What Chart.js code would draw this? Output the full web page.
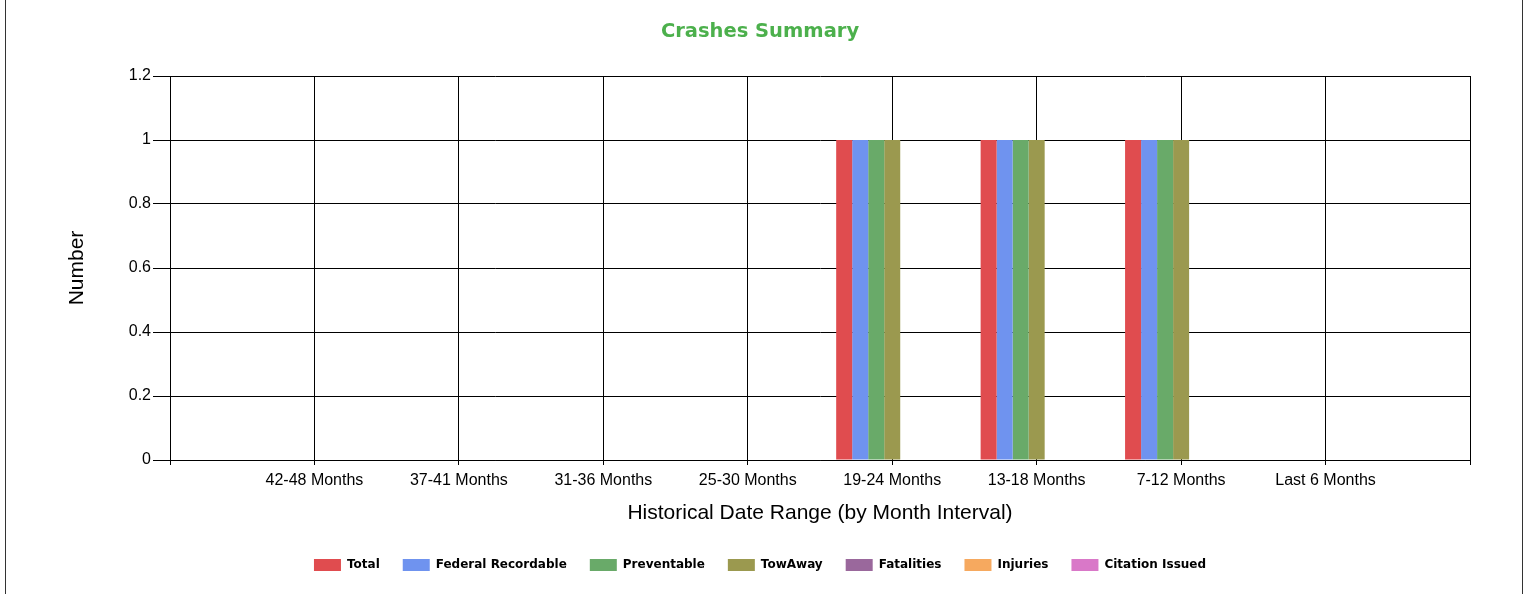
<!DOCTYPE html>
<html>
<head>
<meta charset="utf-8">
<title>Crashes Summary</title>
<script src="https://cdn.jsdelivr.net/npm/chart.js@4"></script>
<style>
  html, body { margin: 0; padding: 0; background: #fff; }
  #wrap { position: relative; width: 1532px; height: 594px; }
  #wrap canvas { position: absolute; left: 0; top: 0; }
  #frame { position: absolute; left: 5px; top: 0; width: 1516px; height: 594px; border-left: 1px solid #333; border-right: 1px solid #333; pointer-events: none; }
</style>
</head>
<body>
<div id="wrap">
  <canvas id="crashChart" width="1532" height="594"></canvas>
  <div id="frame"></div>
</div>
<script>
// month intervals, oldest first
const categories = ['42-48 Months', '37-41 Months', '31-36 Months', '25-30 Months', '19-24 Months', '13-18 Months', '7-12 Months', 'Last 6 Months'];

const total = [0, 0, 0, 0, 1, 1, 1, 0];
const federalRecordable = [0, 0, 0, 0, 1, 1, 1, 0];
const preventable = [0, 0, 0, 0, 1, 1, 1, 0];
const towAway = [0, 0, 0, 0, 1, 1, 1, 0];
const fatalities = [0, 0, 0, 0, 0, 0, 0, 0];
const injuries = [0, 0, 0, 0, 0, 0, 0, 0];
const citationIssued = [0, 0, 0, 0, 0, 0, 0, 0];

const yTicks = [0, 0.2, 0.4, 0.6, 0.8, 1, 1.2];

// the original axis has an empty slot at each end, labels sit on the grid lines
const labels = ['', ...categories, ''];
const pad = (values) => [null, ...values, null];

const series = [
  ['Total', total, '#E04C4F'],
  ['Federal Recordable', federalRecordable, '#6F93EF'],
  ['Preventable', preventable, '#69AA69'],
  ['TowAway', towAway, '#9B994F'],
  ['Fatalities', fatalities, '#9A689C'],
  ['Injuries', injuries, '#F6A95F'],
  ['Citation Issued', citationIssued, '#D978C8'],
];

const axisFont = { family: "'Liberation Sans', Arial, sans-serif", size: 16 };
const axisTitleFont = { family: "'Liberation Sans', Arial, sans-serif", size: 21 };

new Chart(document.getElementById('crashChart'), {
  type: 'bar',
  data: {
    labels,
    datasets: series.map(([label, values, color]) => ({
      label,
      data: pad(values),
      backgroundColor: color,
      borderWidth: 0,
      barPercentage: 1,
      categoryPercentage: 0.776,
    })),
  },
  options: {
    responsive: false,
    animation: false,
    devicePixelRatio: 1,
    layout: { padding: { left: 50, right: 62, top: 0, bottom: 13 } },
    plugins: {
      title: {
        display: true,
        text: 'Crashes Summary',
        color: '#4CB04C',
        font: { family: "'DejaVu Sans', sans-serif", weight: 'bold', size: 19.5 },
        padding: { top: 20.5, bottom: 32.1 },
      },
      legend: {
        position: 'bottom',
        labels: {
          boxWidth: 27,
          boxHeight: 12,
          padding: 23,
          color: '#000',
          font: { family: "'DejaVu Sans', sans-serif", weight: 'bold', size: 12 },
        },
      },
      tooltip: { enabled: false },
    },
    scales: {
      x: {
        offset: false,
        grid: { color: '#000', lineWidth: 1, offset: false, tickLength: 5 },
        border: { color: '#000' },
        ticks: { autoSkip: false, maxRotation: 0, minRotation: 0, color: '#000', font: axisFont, padding: 6 },
        title: {
          display: true,
          text: 'Historical Date Range (by Month Interval)',
          color: '#000',
          font: axisTitleFont,
          padding: { top: 0, bottom: 10 },
        },
        afterFit: (scale) => { scale.height = 76; },
      },
      y: {
        min: 0,
        max: 1.2,
        afterBuildTicks: (scale) => { scale.ticks = yTicks.map((value) => ({ value })); },
        grid: { color: '#000', lineWidth: 1, tickLength: 17 },
        border: { color: '#000' },
        ticks: { color: '#000', font: axisFont, padding: 2, callback: (value) => String(value) },
        title: {
          display: true,
          text: 'Number',
          color: '#000',
          font: axisTitleFont,
          padding: { top: 15, bottom: 0 },
        },
        afterFit: (scale) => { scale.width = 120; },
      },
    },
  },
});
</script>
</body>
</html>
